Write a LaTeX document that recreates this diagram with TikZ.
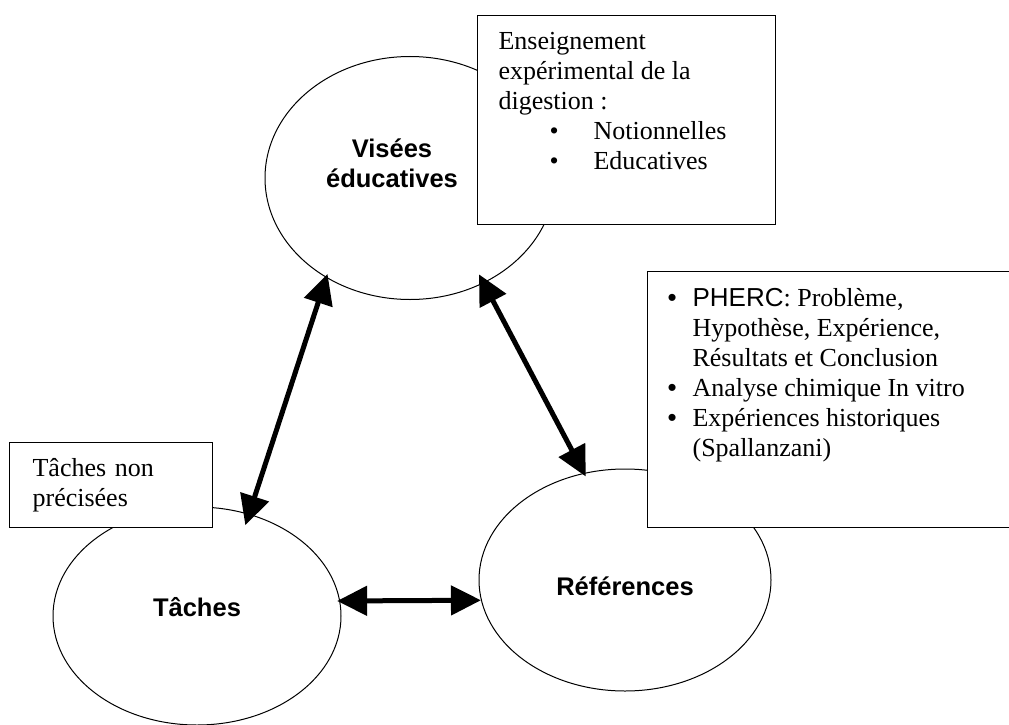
\documentclass[tikz,border=0pt]{standalone}
\usepackage{fontspec}
\setmainfont{Liberation Serif}
\setsansfont{Liberation Sans}
\usetikzlibrary{arrows.meta,shapes.geometric,positioning}

\begin{document}
\begin{tikzpicture}[x=1pt, y=-1pt]
\tikzset{
    myellipse/.style={ellipse, draw=black, line width=1pt, inner sep=0pt},
    mylabel/.style={align=center, inner sep=0pt, font=\fontsize{25.5}{30}\selectfont\sffamily\bfseries},
    mybox/.style={rectangle, draw=black, line width=1.2pt, fill=white, align=left, font=\fontsize{26}{30}\selectfont},
    myarrow/.style={{Triangle[length=30pt,width=29pt]}-{Triangle[length=30pt,width=29pt]}, line width=5pt}
}
\useasboundingbox (0,0) rectangle (1009,725);

\node[myellipse, minimum width=290pt, minimum height=243pt] (vis) at (410,178) {};
\node[myellipse, minimum width=288pt, minimum height=218pt] (taches) at (197,616) {};
\node[myellipse, minimum width=292pt, minimum height=222pt] (refs) at (625,580) {};
% the words sit a little off the centres
\node[mylabel] (vislabel) at ([xshift=-18pt, yshift=15pt]vis.center) {Visées\\éducatives};
\node[mylabel] (tacheslabel) at ([yshift=9pt]taches.center) {Tâches};
\node[mylabel] (refslabel) at ([yshift=-6pt]refs.center) {Références};

\node[mybox, anchor=north west, inner xsep=21pt, inner ysep=17pt] (visbox) at (477,15) {\parbox[t][175pt][t]{256pt}{Enseignement\\
    expérimental de la\\
    digestion :\\
    \hspace*{51pt}\makebox[44pt][l]{•}Notionnelles\\
    \hspace*{51pt}\makebox[44pt][l]{•}Educatives}};
\node[mybox, anchor=north west, inner xsep=20pt, inner ysep=17pt] (refbox) at (647,271) {\parbox[t][222pt][t]{360pt}{\makebox[25pt][l]{\sffamily •}{\sffamily PHERC}: Problème,\\
    \hspace*{25pt}Hypothèse, Expérience,\\
    \hspace*{25pt}Résultats et Conclusion\\
    \makebox[25pt][l]{\sffamily •}Analyse chimique In vitro\\
    \makebox[25pt][l]{\sffamily •}Expériences historiques\\
    \hspace*{25pt}(Spallanzani)}};
\node[mybox, anchor=north west, inner xsep=23pt, text width=157pt, minimum height=85pt] (tachesbox) at (9,442) {Tâches non\\précisées};
% the tips run a little into the ellipses, as in the drawing
\draw[myarrow, shorten <=-4pt, shorten >=-12pt] (vis.-130) -- (taches.63);
\draw[myarrow, shorten <=-10pt, shorten >=-4pt] (vis.-55) -- (refs.111);
\draw[myarrow, shorten <=-3pt] (taches.6) -- (refs.188);

\end{tikzpicture}
\end{document}
